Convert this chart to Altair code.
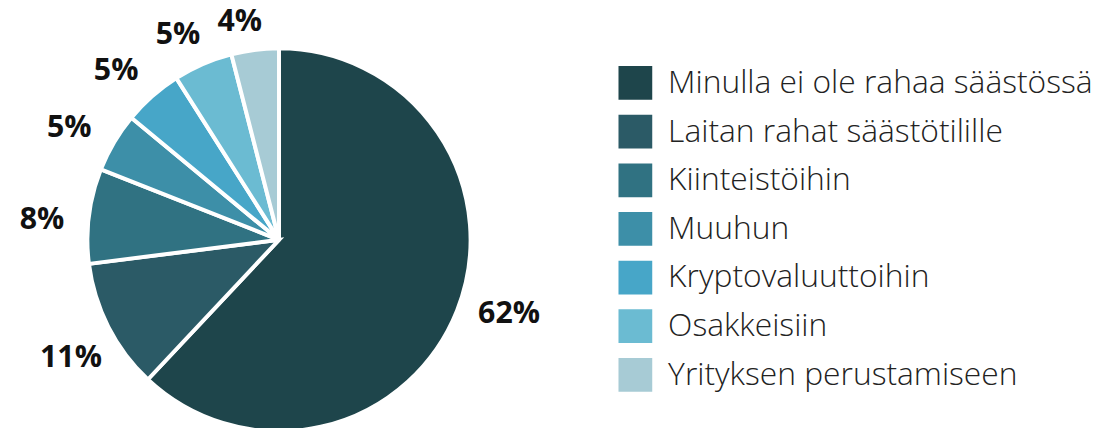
import altair as alt
import pandas as pd

categories = [
    "Minulla ei ole rahaa säästössä",
    "Laitan rahat säästötilille",
    "Kiinteistöihin",
    "Muuhun",
    "Kryptovaluuttoihin",
    "Osakkeisiin",
    "Yrityksen perustamiseen",
]
values = [62, 11, 8, 5, 5, 5, 4]
colors = ["#1e454b", "#2b5a66", "#307282", "#3d8fa8", "#47a6c8", "#6bbbd2", "#a7cbd5"]

df = pd.DataFrame({
    "cat": categories,
    "val": values,
    "order": list(range(len(categories))),
    "label": [f"{v}%" for v in values],
})

color_scale = alt.Scale(domain=categories, range=colors)

CX, CY = 273, 232
THETA_OFF = -0.055

arcs = alt.Chart(df).mark_arc(outerRadius=193, stroke="white", strokeWidth=4).encode(
    theta=alt.Theta("val:Q", stack=True),
    order=alt.Order("order:Q"),
    x=alt.value(CX),
    y=alt.value(CY),
    color=alt.Color(
        "cat:N",
        scale=color_scale,
        sort=categories,
        legend=alt.Legend(
            title=None,
            orient="none",
            legendX=615,
            legendY=57,
            symbolType="square",
            symbolSize=1156,
            symbolStrokeWidth=0,
            symbolOpacity=1,
            labelFontSize=32,
            labelFont="Open Sans",
            labelFontWeight=300,
            labelColor="#222222",
            labelOffset=16,
            rowPadding=15,
            labelLimit=1000,
            padding=0,
        ),
    ),
)

# label distance: keep the text box just outside a circle round the pie
texts = (
    alt.Chart(df)
    .transform_joinaggregate(total="sum(val)")
    .transform_window(cum="sum(val)", sort=[alt.SortField("order")], frame=[None, 0])
    .transform_calculate(midv="datum.cum - datum.val / 2")
    .transform_calculate(
        mid=f"datum.midv / datum.total * 2 * PI + ({THETA_OFF})"
    )
    .transform_calculate(
        lr="210 + (length(datum.label) * 5.5 + 18) * abs(sin(datum.mid)) + 5 * abs(cos(datum.mid))"
    )
    .mark_text(
        thetaOffset=THETA_OFF,
        fontSize=30.5,
        font="Open Sans",
        fontWeight="bold",
        color="#111111",
        baseline="middle",
    )
    .encode(
        theta=alt.Theta("midv:Q", stack=None),
        x=alt.value(CX),
        y=alt.value(CY - 3),
        radius=alt.Radius("lr:Q", scale=None),
        text="label:N",
    )
)

chart = (arcs + texts).properties(
    width=1091,
    height=420,
    autosize=alt.AutoSizeParams(type="none"),
    padding=0,
).configure_view(stroke=None)

chart.save("out.html", embed_options={"renderer": "svg", "actions": False})
